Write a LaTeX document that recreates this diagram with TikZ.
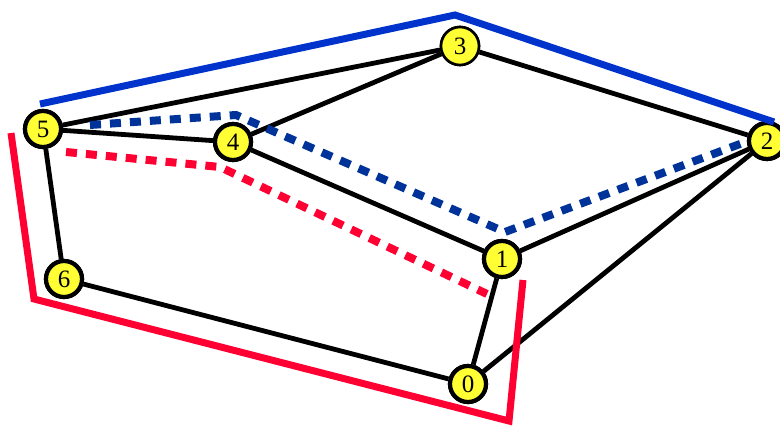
\documentclass[tikz,border=0pt]{standalone}
\usepackage{fontspec}
\setmainfont{Liberation Serif}
\definecolor{nodeyel}{RGB}{255,255,51}
\definecolor{solidblue}{RGB}{0,51,204}
\definecolor{dashblue}{RGB}{0,51,153}
\definecolor{pathred}{RGB}{255,0,51}
\begin{document}
\begin{tikzpicture}[x=1pt,y=-1pt,
  vtx/.style={circle,draw=black,line width=4.2pt,fill=nodeyel,minimum size=36pt,inner sep=0pt,font=\fontsize{25}{25}\selectfont},
  thinvtx/.style={vtx,line width=2.6pt,minimum size=38pt},
  edge/.style={line width=4.8pt,black},
  bluesolid/.style={line width=7pt,solidblue,line join=miter},
  redsolid/.style={line width=7pt,pathred,line join=miter},
  bluedash/.style={line width=8pt,dashblue,dash pattern=on 11pt off 9pt},
  reddash/.style={line width=8pt,pathred,dash pattern=on 11pt off 9pt}]
\useasboundingbox (0,0) rectangle (780,427);
% nodes (placed first so edges can refer to them)
\node[vtx] (n5) at (43,129) {5};
\node[vtx] (n4) at (233,142) {4};
\node[thinvtx] (n3) at (460,46) {3};
\node[vtx] (n2) at (767,141) {2};
\node[vtx] (n1) at (502,259) {1};
\node[vtx] (n6) at (64,279) {6};
\node[vtx] (n0) at (468,384) {0};
% edges
\draw[edge] (n5) -- (n3);
\draw[edge] (n5) -- (n4);
\draw[edge] (n5) -- (n6);
\draw[edge] (n4) -- (n3);
\draw[edge] (n4) -- (n1);
\draw[edge] (n3) -- (n2);
\draw[edge] (n1) -- (n2);
\draw[edge] (n1) -- (n0);
\draw[edge] (n0) -- (n2);
\draw[edge] (n6) -- (n0);
% redraw nodes on top of the edges
\node[vtx] at (n5) {5};
\node[vtx] at (n4) {4};
\node[thinvtx] at (n3) {3};
\node[vtx] at (n2) {2};
\node[vtx] at (n1) {1};
\node[vtx] at (n6) {6};
\node[vtx] at (n0) {0};
% coloured paths
\coordinate (b1) at (40,104);
\coordinate (b2) at (455,15);
\coordinate (b3) at (774,122);
\draw[bluesolid] (b1) -- (b2) -- (b3);
\coordinate (r1) at (11,133);
\coordinate (r2) at (34,299);
\coordinate (r3) at (509,421);
\coordinate (r4) at (523,280);
\draw[redsolid] (r1) -- (r2) -- (r3) -- (r4);
\coordinate (bd1) at (90,125);
\coordinate (bd2) at (236,115);
\coordinate (bd3) at (505,232);
\coordinate (bd4) at (748,141);
\draw[bluedash] (bd1) -- (bd2) -- (bd3) -- (bd4);
\coordinate (rd1) at (66,152);
\coordinate (rd2) at (220,167);
\coordinate (rd3) at (487,294);
\draw[reddash] (rd1) -- (rd2) -- (rd3);
\end{tikzpicture}
\end{document}
